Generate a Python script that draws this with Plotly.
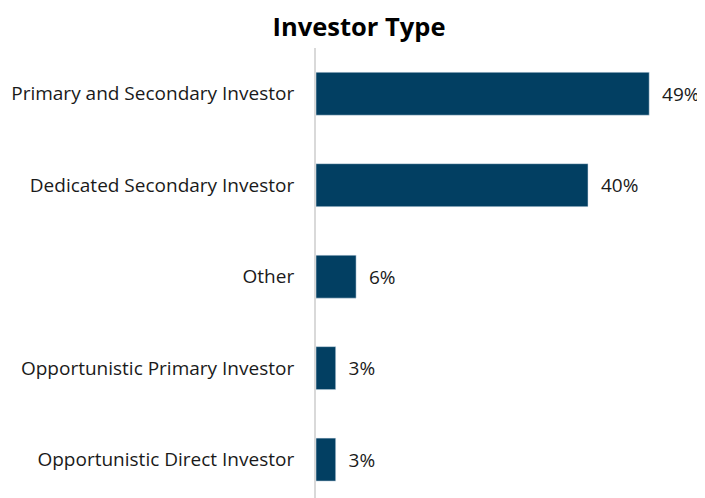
import plotly.graph_objects as go

categories = ["Primary and Secondary Investor", "Dedicated Secondary Investor", "Other",
              "Opportunistic Primary Investor", "Opportunistic Direct Investor"]
values = [49, 40, 5.9, 2.9, 2.9]
labels = ["49%", "40%", "6%", "3%", "3%"]

fig = go.Figure(go.Bar(
    y=categories, x=values, orientation="h",
    marker_color="#023f62",
    width=0.47,
    text=["\u00a0\u00a0" + t for t in labels],
    textposition="outside",
    textfont=dict(size=19, color="#1a1a1a"),
    cliponaxis=False,
))

# page body has an 8px margin, so the figure is a bit smaller than the window
fig.update_layout(
    width=697, height=490,
    margin=dict(l=308, r=0, t=40, b=0, autoexpand=False),
    paper_bgcolor="white", plot_bgcolor="white",
    font=dict(family="Open Sans", size=19, color="#1a1a1a"),
    title=dict(text="<b>Investor Type</b>", x=0.5036, xanchor="center", y=0.962, yanchor="middle",
               font=dict(size=25.5, color="black")),
    showlegend=False,
)
fig.update_xaxes(range=[0, 57.2], visible=False, automargin=False)
fig.update_yaxes(range=[4.42, -0.5], showline=True, linecolor="#d9d9d9", linewidth=2,
                 ticks="", ticklabelstandoff=16, showgrid=False, automargin=False)

fig.write_html("out.html")
